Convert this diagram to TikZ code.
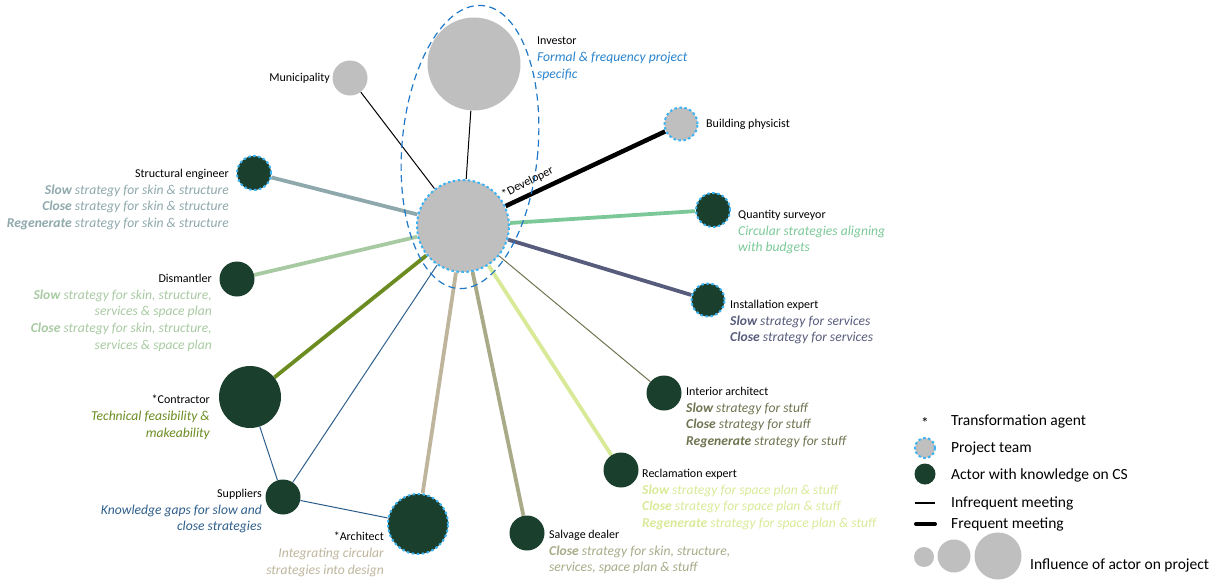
\documentclass[tikz,border=0pt]{standalone}
\usepackage{fontspec}
\setmainfont{Carlito}
\usepackage{tikz}
\usetikzlibrary{positioning,backgrounds}
\definecolor{actorgrey}{RGB}{191,191,191}
\definecolor{csgreen}{RGB}{26,63,45}
\definecolor{teamblue}{RGB}{59,178,242}
\definecolor{ringblue}{RGB}{31,120,200}
\definecolor{invblue}{RGB}{43,132,204}
\definecolor{sengcol}{RGB}{142,168,172}
\definecolor{dismcol}{RGB}{168,202,162}
\definecolor{qsurcol}{RGB}{124,200,152}
\definecolor{instcol}{RGB}{88,92,124}
\definecolor{contcol}{RGB}{107,140,33}
\definecolor{suppcol}{RGB}{47,95,140}
\definecolor{archcol}{RGB}{190,181,156}
\definecolor{salvcol}{RGB}{168,170,136}
\definecolor{reclcol}{RGB}{216,234,152}
\definecolor{intrcol}{RGB}{112,115,80}
% one coloured italic line under an actor's name
\newcommand{\roleline}[2]{{\color{#1}\fontsize{13.6}{16.7}\selectfont\itshape #2}}

\begin{document}
\begin{tikzpicture}[x=1pt,y=-1pt,
  grey/.style={circle,fill=actorgrey,inner sep=0pt,minimum size=#1},
  cs/.style={circle,fill=csgreen,inner sep=0pt,minimum size=#1},
  team/.style={draw=teamblue,line width=2pt,dash pattern=on 2.5pt off 2.5pt},
  thin link/.style={line width=1pt,#1},
  thick link/.style={line width=3.8pt,#1},
  lab/.style={inner sep=0pt,font=\fontsize{12}{16.7}\selectfont},
  labl/.style={lab,anchor=north west,align=left},
  labr/.style={lab,anchor=north east,align=right},
  key/.style={inner sep=0pt,anchor=west,font=\fontsize{15.5}{17}\selectfont}
]
\useasboundingbox (0,0) rectangle (1212,581);

% actors
\node[grey=92pt,team] (dev) at (463,226) {};
\node[grey=93pt] (inv) at (474,64) {};
\node[grey=35pt] (mun) at (350,78) {};
\node[grey=33pt,team] (bphys) at (681,124) {};
\node[cs=34pt,team] (seng) at (254,173) {};
\node[cs=34pt,team] (qsur) at (713,210) {};
\node[cs=35pt] (dism) at (237,279) {};
\node[cs=33pt,team] (inst) at (708,300) {};
\node[cs=62pt] (cont) at (250,397) {};
\node[cs=35pt] (intr) at (664,393) {};
\node[cs=35pt] (recl) at (621,470) {};
\node[cs=35pt] (supp) at (283,497) {};
\node[cs=60pt,team] (arch) at (418,524) {};
\node[cs=35pt] (salv) at (527,533) {};

% dashed ring round investor and developer
\draw[ringblue,line width=1.2pt,dash pattern=on 7pt off 4.5pt,rotate around={-5:(470,147)}]
  (470,147) ellipse [x radius=68,y radius=142];

% links, kept behind the circles
\begin{scope}[on background layer]
\draw[thin link=black] (dev) -- (mun);
\draw[thin link=black] (dev) -- (inv);
\draw[thick link=black,line width=4.5pt] (dev) -- (bphys);
\draw[thick link=sengcol] (dev) -- (seng);
\draw[thick link=qsurcol] (dev) -- (qsur);
\draw[thick link=dismcol] (dev) -- (dism);
\draw[thick link=instcol] (dev) -- (inst);
\draw[thick link=contcol] (dev) -- (cont);
\draw[thin link=intrcol] (dev) -- (intr);
\draw[thick link=reclcol] (dev) -- (recl);
\draw[thin link=suppcol] (dev) -- (supp);
\draw[thick link=archcol] (dev) -- (arch);
\draw[thick link=salvcol] (dev) -- (salv);
\draw[thin link=suppcol] (cont) -- (supp);
\draw[thin link=suppcol] (supp) -- (arch);
\end{scope}

% labels
\node[lab,rotate=27,anchor=south west] (devlab) at (505,200) {*Developer};
\node[lab,anchor=east] (munlab) at (330,78) {Municipality};
\node[labl] (invlab) at (537,37) {Investor\\
  \roleline{invblue}{Formal \& frequency project}\\
  \roleline{invblue}{specific}};
\node[lab,anchor=west] (bphyslab) at (706,124) {Building physicist};
\node[labr] (senglab) at (229,169) {Structural engineer\\
  \roleline{sengcol}{\textbf{Slow} strategy for skin \& structure}\\
  \roleline{sengcol}{\textbf{Close} strategy for skin \& structure}\\
  \roleline{sengcol}{\textbf{Regenerate} strategy for skin \& structure}};
\node[labl] (qsurlab) at (738,210) {Quantity surveyor\\
  \roleline{qsurcol}{Circular strategies aligning}\\
  \roleline{qsurcol}{with budgets}};
\node[labr] (dismlab) at (212,274) {Dismantler\\
  \roleline{dismcol}{\textbf{Slow} strategy for skin, structure,}\\
  \roleline{dismcol}{services \& space plan}\\
  \roleline{dismcol}{\textbf{Close} strategy for skin, structure,}\\
  \roleline{dismcol}{services \& space plan}};
\node[labl] (instlab) at (730,300) {Installation expert\\
  \roleline{instcol}{\textbf{Slow} strategy for services}\\
  \roleline{instcol}{\textbf{Close} strategy for services}};
\node[labr] (contlab) at (210,395) {*Contractor\\
  \roleline{contcol}{Technical feasibility \&}\\
  \roleline{contcol}{makeability}};
\node[labl] (intrlab) at (686,387) {Interior architect\\
  \roleline{intrcol}{\textbf{Slow} strategy for stuff}\\
  \roleline{intrcol}{\textbf{Close} strategy for stuff}\\
  \roleline{intrcol}{\textbf{Regenerate} strategy for stuff}};
\node[labl] (recllab) at (642,469) {Reclamation expert\\
  \roleline{reclcol}{\textbf{Slow} strategy for space plan \& stuff}\\
  \roleline{reclcol}{\textbf{Close} strategy for space plan \& stuff}\\
  \roleline{reclcol}{\textbf{Regenerate} strategy for space plan \& stuff}};
\node[labr] (supplab) at (262,489) {Suppliers\\
  \roleline{suppcol}{Knowledge gaps for slow and}\\
  \roleline{suppcol}{close strategies}};
\node[labr] (archlab) at (384,532) {*Architect\\
  \roleline{archcol}{Integrating circular}\\
  \roleline{archcol}{strategies into design}};
\node[labl] (salvlab) at (549,530) {Salvage dealer\\
  \roleline{salvcol}{\textbf{Close} strategy for skin, structure,}\\
  \roleline{salvcol}{services, space plan \& stuff}};

% legend
\node[inner sep=0pt,font=\fontsize{15.5}{17}\selectfont] (kstar) at (925,423) {*};
\node[key] (kstarlab) at (951,421) {Transformation agent};
\node[grey=20pt,team] (kteam) at (925,448) {};
\node[key] (kteamlab) at (951,448) {Project team};
\node[cs=21pt] (kcs) at (925,474) {};
\node[key] (kcslab) at (951,475) {Actor with knowledge on CS};
\coordinate (kinfa) at (915,503);
\coordinate (kinfb) at (935,503);
\draw[line width=1.5pt] (kinfa) -- (kinfb);
\node[key] (kinflab) at (951,503) {Infrequent meeting};
\coordinate (kfrqa) at (916,524);
\coordinate (kfrqb) at (935,524);
\draw[line width=4pt,line cap=round] (kfrqa) -- (kfrqb);
\node[key] (kfrqlab) at (951,524) {Frequent meeting};
\node[grey=20pt] (ksmall) at (924,557) {};
\node[grey=33pt] (kmid) at (954,556) {};
\node[grey=47pt] (kbig) at (998,556) {};
\node[key] (kinflu) at (1030,565) {Influence of actor on project};
\end{tikzpicture}
\end{document}
